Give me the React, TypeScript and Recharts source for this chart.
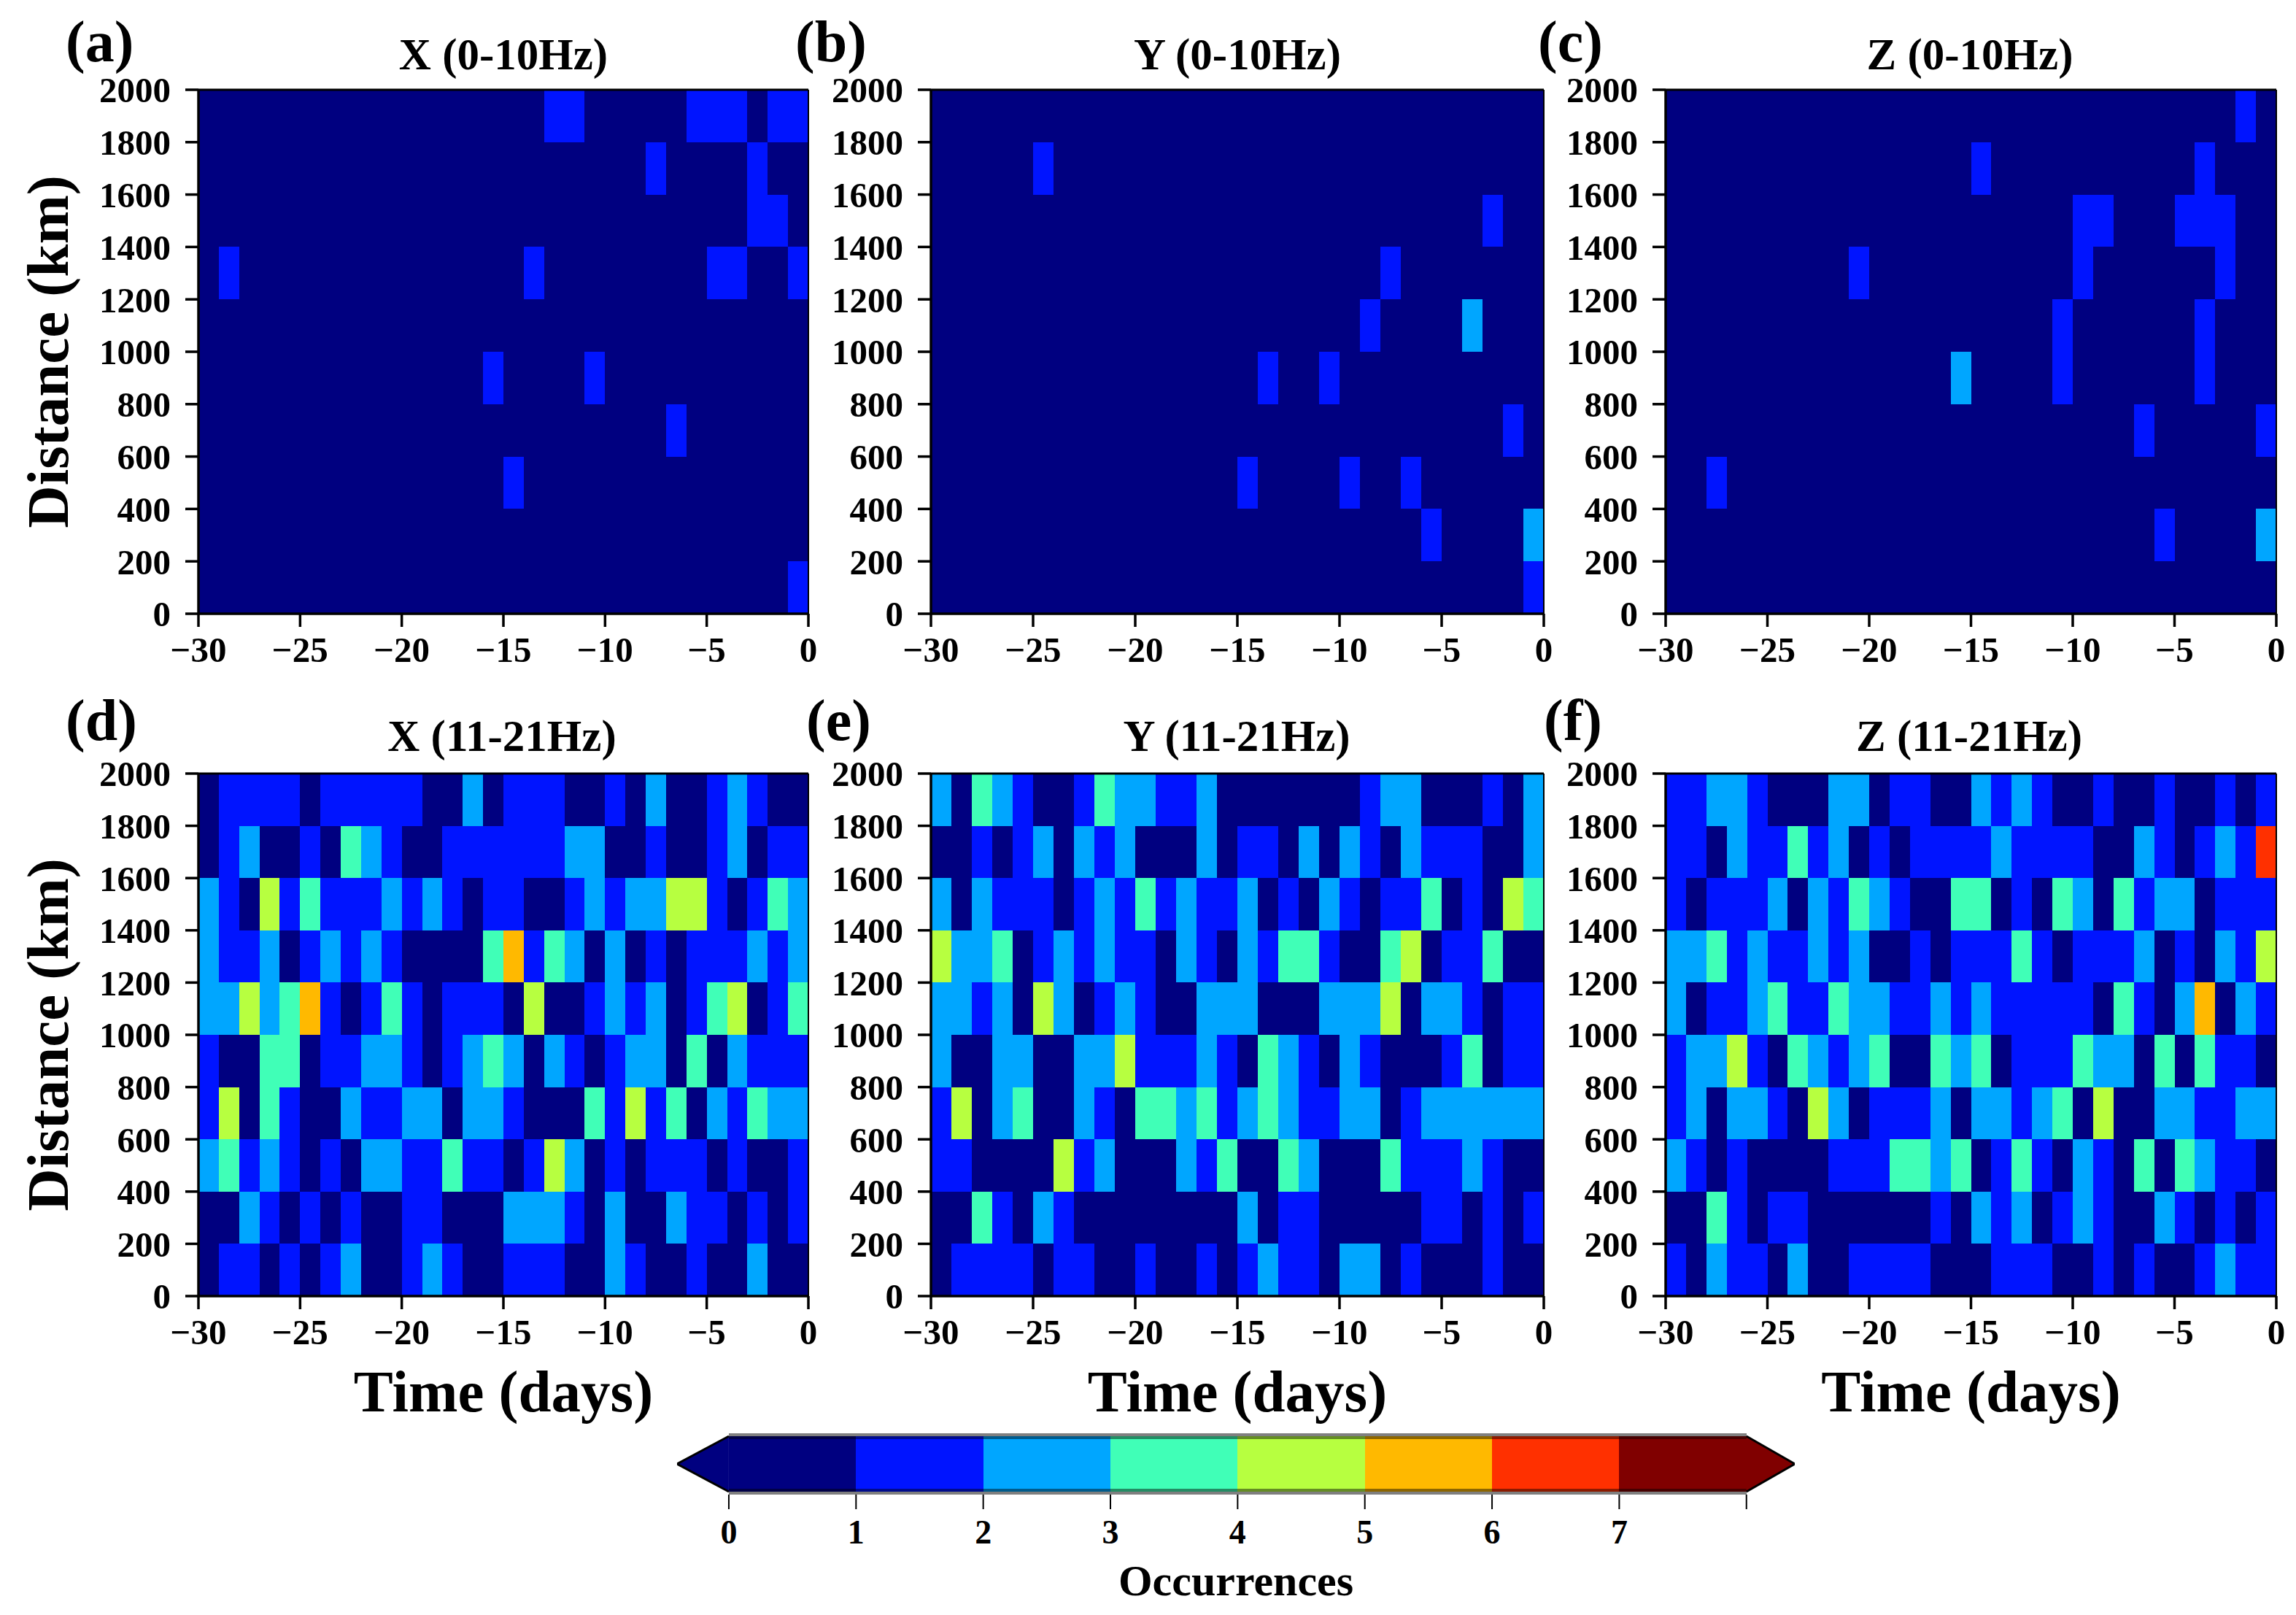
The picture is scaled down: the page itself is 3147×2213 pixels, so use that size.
import React from 'react';
import { BarChart, Bar, XAxis, YAxis, Cell, ReferenceLine, Label } from 'recharts';

const FONT = '"Liberation Serif", "Times New Roman", serif';

const timeTicks = [-30, -25, -20, -15, -10, -5, 0];
const distanceTicks = [0, 200, 400, 600, 800, 1000, 1200, 1400, 1600, 1800, 2000];
const barLevels = [0, 1, 2, 3, 4, 5, 6, 7, 8];
const levelColors = ['#000080', '#0014ff', '#00a6ff', '#40ffb7', '#b7ff40', '#ffb900', '#ff3000', '#800000'];
const dayBins = [-29.5,-28.5,-27.5,-26.5,-25.5,-24.5,-23.5,-22.5,-21.5,-20.5,-19.5,-18.5,-17.5,-16.5,-15.5,-14.5,-13.5,-12.5,-11.5,-10.5,-9.5,-8.5,-7.5,-6.5,-5.5,-4.5,-3.5,-2.5,-1.5,-0.5];

// each panel: occurrences per one-day bin; rows run from 1800-2000 km (first) down to 0-200 km (last)
const panelA = [
  [0,0,0,0,0,0,0,0,0,0,0,0,0,0,0,0,0,1,1,0,0,0,0,0,1,1,1,0,1,1],
  [0,0,0,0,0,0,0,0,0,0,0,0,0,0,0,0,0,0,0,0,0,0,1,0,0,0,0,1,0,0],
  [0,0,0,0,0,0,0,0,0,0,0,0,0,0,0,0,0,0,0,0,0,0,0,0,0,0,0,1,1,0],
  [0,1,0,0,0,0,0,0,0,0,0,0,0,0,0,0,1,0,0,0,0,0,0,0,0,1,1,0,0,1],
  [0,0,0,0,0,0,0,0,0,0,0,0,0,0,0,0,0,0,0,0,0,0,0,0,0,0,0,0,0,0],
  [0,0,0,0,0,0,0,0,0,0,0,0,0,0,1,0,0,0,0,1,0,0,0,0,0,0,0,0,0,0],
  [0,0,0,0,0,0,0,0,0,0,0,0,0,0,0,0,0,0,0,0,0,0,0,1,0,0,0,0,0,0],
  [0,0,0,0,0,0,0,0,0,0,0,0,0,0,0,1,0,0,0,0,0,0,0,0,0,0,0,0,0,0],
  [0,0,0,0,0,0,0,0,0,0,0,0,0,0,0,0,0,0,0,0,0,0,0,0,0,0,0,0,0,0],
  [0,0,0,0,0,0,0,0,0,0,0,0,0,0,0,0,0,0,0,0,0,0,0,0,0,0,0,0,0,1],
];
const panelB = [
  [0,0,0,0,0,0,0,0,0,0,0,0,0,0,0,0,0,0,0,0,0,0,0,0,0,0,0,0,0,0],
  [0,0,0,0,0,1,0,0,0,0,0,0,0,0,0,0,0,0,0,0,0,0,0,0,0,0,0,0,0,0],
  [0,0,0,0,0,0,0,0,0,0,0,0,0,0,0,0,0,0,0,0,0,0,0,0,0,0,0,1,0,0],
  [0,0,0,0,0,0,0,0,0,0,0,0,0,0,0,0,0,0,0,0,0,0,1,0,0,0,0,0,0,0],
  [0,0,0,0,0,0,0,0,0,0,0,0,0,0,0,0,0,0,0,0,0,1,0,0,0,0,2,0,0,0],
  [0,0,0,0,0,0,0,0,0,0,0,0,0,0,0,0,1,0,0,1,0,0,0,0,0,0,0,0,0,0],
  [0,0,0,0,0,0,0,0,0,0,0,0,0,0,0,0,0,0,0,0,0,0,0,0,0,0,0,0,1,0],
  [0,0,0,0,0,0,0,0,0,0,0,0,0,0,0,1,0,0,0,0,1,0,0,1,0,0,0,0,0,0],
  [0,0,0,0,0,0,0,0,0,0,0,0,0,0,0,0,0,0,0,0,0,0,0,0,1,0,0,0,0,2],
  [0,0,0,0,0,0,0,0,0,0,0,0,0,0,0,0,0,0,0,0,0,0,0,0,0,0,0,0,0,1],
];
const panelC = [
  [0,0,0,0,0,0,0,0,0,0,0,0,0,0,0,0,0,0,0,0,0,0,0,0,0,0,0,0,1,0],
  [0,0,0,0,0,0,0,0,0,0,0,0,0,0,0,1,0,0,0,0,0,0,0,0,0,0,1,0,0,0],
  [0,0,0,0,0,0,0,0,0,0,0,0,0,0,0,0,0,0,0,0,1,1,0,0,0,1,1,1,0,0],
  [0,0,0,0,0,0,0,0,0,1,0,0,0,0,0,0,0,0,0,0,1,0,0,0,0,0,0,1,0,0],
  [0,0,0,0,0,0,0,0,0,0,0,0,0,0,0,0,0,0,0,1,0,0,0,0,0,0,1,0,0,0],
  [0,0,0,0,0,0,0,0,0,0,0,0,0,0,2,0,0,0,0,1,0,0,0,0,0,0,1,0,0,0],
  [0,0,0,0,0,0,0,0,0,0,0,0,0,0,0,0,0,0,0,0,0,0,0,1,0,0,0,0,0,1],
  [0,0,1,0,0,0,0,0,0,0,0,0,0,0,0,0,0,0,0,0,0,0,0,0,0,0,0,0,0,0],
  [0,0,0,0,0,0,0,0,0,0,0,0,0,0,0,0,0,0,0,0,0,0,0,0,1,0,0,0,0,2],
  [0,0,0,0,0,0,0,0,0,0,0,0,0,0,0,0,0,0,0,0,0,0,0,0,0,0,0,0,0,0],
];
const panelD = [
  [0,1,1,1,1,0,1,1,1,1,1,0,0,2,0,1,1,1,0,0,1,0,2,0,0,1,2,1,0,0],
  [0,1,2,0,0,1,0,3,2,1,0,0,1,1,1,1,1,1,2,2,0,0,1,0,0,1,2,0,1,1],
  [2,1,0,4,1,3,1,1,1,2,1,2,1,0,1,1,0,0,1,2,1,2,2,4,4,1,0,1,3,2],
  [2,1,1,2,0,1,2,1,2,1,0,0,0,0,3,5,1,3,2,0,2,0,1,0,1,1,1,2,1,2],
  [2,2,4,2,3,5,1,0,1,3,1,0,1,1,1,0,4,0,0,1,2,1,2,0,1,3,4,0,1,3],
  [1,0,0,3,3,0,1,1,2,2,1,0,1,2,3,2,0,2,1,0,1,2,2,0,3,0,2,1,1,1],
  [1,4,0,3,1,0,0,2,1,1,2,2,0,2,2,1,0,0,0,3,1,4,1,3,0,2,1,3,2,2],
  [2,3,1,2,1,0,1,0,2,2,1,1,3,1,1,0,1,4,2,0,1,0,1,1,1,0,1,0,0,1],
  [0,0,2,1,0,1,0,1,0,0,1,1,0,0,0,2,2,2,1,0,2,0,0,2,1,1,0,1,0,1],
  [0,1,1,0,1,0,1,2,0,0,1,2,1,0,0,1,1,1,0,0,2,1,0,0,1,0,0,2,0,0],
];
const panelE = [
  [2,0,3,2,1,0,0,1,3,2,2,1,1,2,0,0,0,0,0,0,0,1,2,2,0,0,0,1,0,2],
  [0,0,1,0,1,2,0,2,1,2,0,0,0,2,0,1,1,0,2,0,2,1,0,2,1,1,1,0,0,2],
  [2,0,2,1,1,1,0,1,2,1,3,1,2,1,1,2,0,1,0,2,1,0,1,1,3,0,1,0,4,3],
  [4,2,2,3,0,1,2,1,2,1,1,0,2,1,0,2,1,3,3,1,0,0,3,4,0,1,1,3,0,0],
  [2,2,1,2,0,4,2,0,1,2,1,0,0,2,2,2,0,0,0,2,2,2,4,0,2,2,1,0,1,1],
  [2,0,0,2,2,0,0,2,2,4,1,1,1,2,1,0,3,2,1,0,2,1,0,0,0,1,3,0,1,1],
  [1,4,0,2,3,0,0,2,1,0,3,3,2,3,1,2,3,2,1,1,2,2,0,1,2,2,2,2,2,2],
  [1,1,0,0,0,0,4,1,2,0,0,0,2,1,3,0,0,3,2,0,0,0,3,1,1,1,2,1,0,0],
  [0,0,3,1,0,2,1,0,0,0,0,0,0,0,0,2,0,1,1,0,0,0,0,0,1,1,0,1,0,1],
  [0,1,1,1,1,0,1,1,0,0,1,0,0,1,0,1,2,1,1,0,2,2,0,1,0,0,0,1,0,0],
];
const panelF = [
  [1,1,2,2,1,0,0,0,2,2,0,1,1,0,0,2,1,2,1,0,0,1,0,0,1,0,0,1,0,1],
  [1,1,0,2,1,1,3,1,2,0,1,0,1,1,1,1,2,1,1,1,1,0,0,2,1,0,1,2,1,6],
  [1,0,1,1,1,2,0,2,1,3,2,1,0,0,3,3,0,1,0,3,2,0,3,1,2,2,0,1,1,1],
  [2,2,3,1,2,1,1,2,1,2,0,0,1,0,1,1,1,3,1,0,1,1,1,2,0,1,0,2,1,4],
  [2,0,1,1,2,3,1,1,3,2,2,1,1,2,1,2,1,1,1,1,1,0,3,1,0,2,5,0,2,1],
  [1,2,2,4,1,0,3,2,1,2,3,0,0,3,2,3,0,1,1,1,3,2,2,0,3,0,3,1,1,0],
  [1,2,0,2,2,1,0,4,2,0,1,1,1,2,0,2,2,1,2,3,0,4,0,0,2,2,1,1,2,2],
  [2,1,0,1,0,0,0,0,1,1,1,3,3,2,3,0,1,3,1,0,2,1,0,3,0,3,2,1,1,0],
  [0,0,3,1,0,1,1,0,0,0,0,0,0,1,0,2,1,2,0,1,2,1,0,0,2,1,0,1,0,1],
  [1,0,2,1,1,0,2,0,0,1,1,1,1,0,0,0,1,1,1,0,0,1,0,1,0,0,1,2,1,1],
];

const tickStyle = { fontFamily: FONT, fontWeight: 700, fontSize: 49, fill: '#000' };
const labelStyle = { fontFamily: FONT, fontWeight: 700, fontSize: 81, fill: '#000' };

const AXIS_W = 272;
const AXIS_H = 210;
const TOP = 40;
const RIGHT = 40;

function fmtTime(v: number) {
  return v < 0 ? '\u2212' + Math.abs(v) : String(v);
}

// a heat-map cell: overlaps its later neighbours by a pixel so that no seam shows
function HeatCell(props: any) {
  const { x, y, width, height, fill } = props;
  return <rect x={x} y={y - 1} width={width + 1} height={height + 1} fill={fill} shapeRendering="crispEdges" />;
}

function Panel({ rows, left, top, width, height, yTitle, xTitle }: any) {
  const binHeight = distanceTicks[1];
  const data = dayBins.map((t) => {
    const row: any = { t };
    rows.forEach((_: number[], r: number) => { row['d' + r] = binHeight; });
    return row;
  });
  const stackOrder = rows.map((_: number[], i: number) => rows.length - 1 - i);
  return (
    <div style={{ position: 'absolute', left: left - AXIS_W, top: top - TOP }}>
      <BarChart
        width={AXIS_W + width + RIGHT}
        height={TOP + height + AXIS_H}
        data={data}
        margin={{ top: TOP, right: RIGHT, bottom: 0, left: 0 }}
        barSize={width / dayBins.length - 0.01}
        barGap={0}
      >
        <XAxis
          dataKey="t"
          type="number"
          domain={[-30, 0]}
          ticks={timeTicks}
          interval={0}
          allowDataOverflow
          height={AXIS_H}
          tickFormatter={fmtTime}
          tick={tickStyle}
          tickSize={18}
          tickMargin={13}
          stroke="#000"
          strokeWidth={3.5}
        >
          {xTitle ? <Label value="Time (days)" position="insideBottom" offset={52} style={labelStyle} /> : null}
        </XAxis>
        <YAxis
          type="number"
          domain={[0, 2000]}
          ticks={distanceTicks}
          interval={0}
          allowDataOverflow
          width={AXIS_W}
          tick={tickStyle}
          tickSize={18}
          tickMargin={20}
          stroke="#000"
          strokeWidth={3.5}
        >
          {yTitle ? <Label value="Distance (km)" angle={-90} position="insideLeft" offset={64} style={{ ...labelStyle, textAnchor: 'middle' }} /> : null}
        </YAxis>
        {stackOrder.map((rowIndex: number) => (
          <Bar key={rowIndex} dataKey={'d' + (rows.length - 1 - rowIndex)} stackId="s" isAnimationActive={false} shape={<HeatCell />}>
            {rows[rowIndex].map((v: number, i: number) => (
              <Cell key={i} fill={levelColors[v]} />
            ))}
          </Bar>
        ))}
        <ReferenceLine y={2000} stroke="#000" strokeWidth={3} />
        <ReferenceLine x={0} stroke="#000" strokeWidth={2} />
      </BarChart>
    </div>
  );
}

const BAR_TOP_GREY = 4;
const BAR_DARK = 4;

function SegmentShape(props: any) {
  const { x, y, width, height, fill } = props;
  return (
    <g shapeRendering="crispEdges">
      <rect x={x} y={y} width={width} height={height} fill={fill} />
      <rect x={x} y={y} width={width} height={BAR_TOP_GREY} fill="#7f7f7f" />
      <rect x={x} y={y + BAR_TOP_GREY} width={width} height={BAR_DARK} fill="rgba(0,0,0,0.45)" />
      <rect x={x} y={y + height - BAR_TOP_GREY - BAR_DARK} width={width} height={BAR_DARK} fill="rgba(0,0,0,0.45)" />
      <rect x={x} y={y + height - BAR_TOP_GREY} width={width} height={BAR_TOP_GREY} fill="#7f7f7f" />
    </g>
  );
}

function TipShape(props: any) {
  const { x, y, width, height, fill } = props;
  const base = x;
  const tip = x + width;
  const pts = `${base},${y + 4} ${tip},${y + height / 2} ${base},${y + height - 4}`;
  return (
    <g>
      <polygon points={pts} fill={fill} />
      <polyline points={pts} fill="none" stroke="#000" strokeWidth={3} />
    </g>
  );
}

const colorbarData = [{
  name: 'Occurrences',
  tipLeft: -0.407,
  l0: 1, l1: 1, l2: 1, l3: 1, l4: 1, l5: 1, l6: 1, l7: 1,
  tipRight: 0.38,
}];
const colorbarKeys = ['l0', 'l1', 'l2', 'l3', 'l4', 'l5', 'l6', 'l7'];

function Colorbar() {
  return (
    <div style={{ position: 'absolute', left: 928, top: 1964 }}>
      <BarChart
        width={1532}
        height={244}
        layout="vertical"
        data={colorbarData}
        stackOffset="sign"
        margin={{ top: 0, right: 0, bottom: 0, left: 0 }}
        barCategoryGap={0}
      >
        <XAxis
          type="number"
          domain={[-0.407, 8.38]}
          ticks={barLevels}
          interval={0}
          allowDataOverflow
          height={160}
          axisLine={false}
          tickSize={20}
          tickMargin={14}
          tickFormatter={(v: number) => (v === 8 ? '' : String(v))}
          tick={{ ...tickStyle, fontSize: 46 }}
          stroke="#000"
          tickLine={{ stroke: '#000', strokeWidth: 2 }}
        >
          <Label value="Occurrences" position="insideBottom" offset={22} style={{ ...labelStyle, fontSize: 60 }} />
        </XAxis>
        <YAxis type="category" dataKey="name" hide />
        <Bar dataKey="tipLeft" stackId="c" fill={levelColors[0]} isAnimationActive={false} shape={<TipShape />} />
        {colorbarKeys.map((k, i) => (
          <Bar key={k} dataKey={k} stackId="c" fill={levelColors[i]} isAnimationActive={false} shape={<SegmentShape />} />
        ))}
        <Bar dataKey="tipRight" stackId="c" fill={levelColors[7]} isAnimationActive={false} shape={<TipShape />} />
      </BarChart>
    </div>
  );
}

const titles = [
  { text: 'X (0-10Hz)', cx: 690, top: 40 },
  { text: 'Y (0-10Hz)', cx: 1696, top: 40 },
  { text: 'Z (0-10Hz)', cx: 2700, top: 40 },
  { text: 'X (11-21Hz)', cx: 688, top: 974 },
  { text: 'Y (11-21Hz)', cx: 1695, top: 974 },
  { text: 'Z (11-21Hz)', cx: 2699, top: 974 },
];
const panelLetters = [
  { text: '(a)', x: 90, top: 12 },
  { text: '(b)', x: 1090, top: 12 },
  { text: '(c)', x: 2108, top: 12 },
  { text: '(d)', x: 90, top: 942 },
  { text: '(e)', x: 1105, top: 942 },
  { text: '(f)', x: 2116, top: 942 },
];

const X_LEFT = [272, 1276, 2283];
const X_WIDTH = [836, 840, 837];
const Y_TOP = [123, 1060];
const Y_HEIGHT = [718, 716];

export default function App() {
  const panels = [panelA, panelB, panelC, panelD, panelE, panelF];
  return (
    <div style={{ position: 'absolute', left: 0, top: 0, width: 3147, height: 2213, background: '#fff', overflow: 'hidden' }}>
      {panels.map((rows, i) => (
        <Panel
          key={i}
          rows={rows}
          left={X_LEFT[i % 3]}
          top={Y_TOP[i < 3 ? 0 : 1]}
          width={X_WIDTH[i % 3]}
          height={Y_HEIGHT[i < 3 ? 0 : 1]}
          yTitle={i % 3 === 0}
          xTitle={i >= 3}
        />
      ))}
      <Colorbar />
      {titles.map((t) => (
        <div key={t.text} style={{ position: 'absolute', left: t.cx - 300, width: 600, top: t.top, textAlign: 'center', fontFamily: FONT, fontWeight: 700, fontSize: 61, lineHeight: '70px', color: '#000' }}>{t.text}</div>
      ))}
      {panelLetters.map((t) => (
        <div key={t.text} style={{ position: 'absolute', left: t.x, top: t.top, fontFamily: FONT, fontWeight: 700, fontSize: 80, lineHeight: '90px', color: '#000' }}>{t.text}</div>
      ))}
    </div>
  );
}
